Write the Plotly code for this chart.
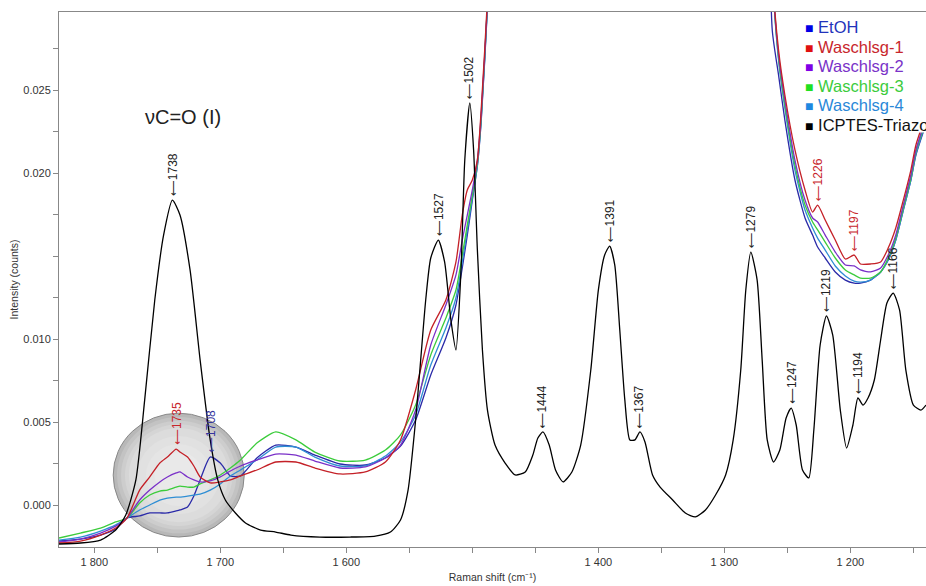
import numpy as np
import plotly.graph_objects as go

# Raman shift axis (cm^-1) shared by the washing-solution spectra
shift_wash = [1828, 1811, 1795, 1783, 1774, 1764, 1756, 1748, 1742, 1735,
              1732, 1726, 1721, 1716, 1708, 1700, 1692, 1684, 1671, 1656,
              1640, 1625, 1605, 1585, 1569, 1557, 1545, 1533, 1521, 1513,
              1508, 1504, 1500, 1496, 1493, 1488, 1480, 1400, 1300, 1268,
              1262, 1257, 1252, 1244, 1236, 1230, 1226, 1220, 1212, 1204,
              1197, 1192, 1184, 1176, 1170, 1164, 1158, 1152, 1148, 1140]

etoh = [-0.00217, -0.00205, -0.00181, -0.00145, -0.00078, -0.00066, -0.00048, -0.00048, -0.00048, -0.00036,
        -0.00030, -0.00012, 0.00054, 0.00151, 0.00289, 0.00253, 0.00175, 0.00175, 0.00283, 0.00361,
        0.00349, 0.00301, 0.00247, 0.00241, 0.00283, 0.00355, 0.00512, 0.00783, 0.01006, 0.01205,
        0.01428, 0.01626, 0.01837, 0.02042, 0.02307, 0.0300, 0.045, 0.08, 0.08, 0.045,
        0.0286, 0.0259, 0.02319, 0.01958, 0.01729, 0.01626, 0.01554, 0.01488, 0.01404, 0.01355,
        0.01337, 0.01337, 0.01355, 0.01404, 0.01476, 0.01596, 0.01777, 0.01958, 0.02108, 0.02295]

wasch1 = [-0.00229, -0.00217, -0.00181, -0.00139, -0.00078, 0.00090, 0.00169, 0.00253, 0.00289, 0.00337,
          0.00319, 0.00289, 0.00235, 0.00169, 0.00133, 0.00139, 0.00151, 0.00175, 0.00211, 0.00259,
          0.00259, 0.00223, 0.00187, 0.00199, 0.00259, 0.00392, 0.00693, 0.01054, 0.01235, 0.01464,
          0.01747, 0.01898, 0.01958, 0.02078, 0.02379, 0.0305, 0.045, 0.08, 0.08, 0.045,
          0.032, 0.0274, 0.0247, 0.02139, 0.01898, 0.01765, 0.01807, 0.01717, 0.01596, 0.01482,
          0.01506, 0.01452, 0.01452, 0.01464, 0.01548, 0.01669, 0.01837, 0.02018, 0.02169, 0.02349]

wasch2 = [-0.00223, -0.00205, -0.00169, -0.00127, -0.00078, 0.00030, 0.00090, 0.00139, 0.00169, 0.00193,
          0.00199, 0.00169, 0.00151, 0.00139, 0.00145, 0.00169, 0.00205, 0.00235, 0.00271, 0.00307,
          0.00301, 0.00265, 0.00223, 0.00229, 0.00283, 0.00361, 0.00572, 0.00964, 0.01205, 0.01386,
          0.01596, 0.01747, 0.01898, 0.02078, 0.02349, 0.0302, 0.045, 0.08, 0.08, 0.045,
          0.032, 0.0271, 0.0244, 0.02078, 0.01837, 0.01729, 0.01705, 0.01626, 0.01524, 0.01446,
          0.01440, 0.01416, 0.01404, 0.01428, 0.01506, 0.01626, 0.01807, 0.01988, 0.02139, 0.02331]

wasch3 = [-0.00199, -0.00169, -0.00139, -0.00102, -0.00078, 0.00012, 0.00060, 0.00084, 0.00090, 0.00108,
          0.00114, 0.00108, 0.00108, 0.00127, 0.00151, 0.00181, 0.00223, 0.00271, 0.00373, 0.00440,
          0.00392, 0.00319, 0.00265, 0.00271, 0.00331, 0.00422, 0.00602, 0.00904, 0.01126, 0.01295,
          0.01506, 0.01687, 0.01867, 0.02060, 0.02331, 0.0302, 0.045, 0.08, 0.08, 0.045,
          0.032, 0.02693, 0.0241, 0.02048, 0.01807, 0.01705, 0.01657, 0.01584, 0.01488, 0.01416,
          0.01386, 0.01367, 0.01367, 0.01404, 0.01488, 0.01608, 0.01789, 0.01970, 0.02127, 0.02319]

wasch4 = [-0.00211, -0.00193, -0.00157, -0.00120, -0.00078, -0.00030, 0.0, 0.00030, 0.00042, 0.00048,
          0.00048, 0.00054, 0.00060, 0.00066, 0.00090, 0.00127, 0.00175, 0.00211, 0.00271, 0.00349,
          0.00349, 0.00289, 0.00235, 0.00235, 0.00295, 0.00380, 0.00542, 0.00843, 0.01066, 0.01247,
          0.01464, 0.01657, 0.01849, 0.02048, 0.02319, 0.0301, 0.045, 0.08, 0.08, 0.045,
          0.032, 0.0268, 0.02392, 0.02018, 0.01777, 0.01669, 0.01608, 0.01536, 0.01440, 0.01380,
          0.01349, 0.01343, 0.01355, 0.01404, 0.01476, 0.01596, 0.01777, 0.01958, 0.02114, 0.02307]

# ICPTES-Triazol reference spectrum
shift_triazol = [1828, 1811, 1795, 1783, 1775, 1767, 1760, 1752, 1745, 1738,
                 1732, 1724, 1716, 1708, 1702, 1696, 1688, 1680, 1668, 1656,
                 1644, 1621, 1597, 1577, 1565, 1557, 1551, 1545, 1541, 1537,
                 1533, 1527, 1522, 1517, 1513, 1509, 1506, 1502, 1499, 1496,
                 1492, 1488, 1482, 1474, 1466, 1458, 1452, 1448, 1444, 1439,
                 1434, 1428, 1421, 1414, 1406, 1400, 1395, 1391, 1387, 1383,
                 1379, 1375, 1371, 1367, 1363, 1357, 1351, 1341, 1331, 1323,
                 1315, 1307, 1299, 1293, 1287, 1283, 1279, 1274, 1270, 1266,
                 1261, 1256, 1251, 1247, 1243, 1238, 1233, 1229, 1224, 1219,
                 1214, 1208, 1203, 1198, 1194, 1190, 1186, 1181, 1176, 1171,
                 1166, 1161, 1156, 1150, 1144, 1140]

triazol = [-0.00235, -0.00229, -0.00211, -0.00151, -0.00060, 0.00151, 0.00633, 0.01235, 0.01626, 0.01837,
           0.01747, 0.01416, 0.00873, 0.00392, 0.00151, 0.00030, -0.00048, -0.00108, -0.00151, -0.00163,
           -0.00181, -0.00193, -0.00193, -0.00187, -0.00163, -0.00090, 0.00090, 0.00512, 0.00873, 0.01235,
           0.01488, 0.01596, 0.01464, 0.01114, 0.00934, 0.01416, 0.02078, 0.02422, 0.02139, 0.01536,
           0.00934, 0.00572, 0.00361, 0.00253, 0.00181, 0.00199, 0.00301, 0.00404, 0.00440, 0.00361,
           0.00211, 0.00139, 0.00199, 0.00361, 0.00813, 0.01295, 0.01506, 0.01560, 0.01446, 0.01054,
           0.00633, 0.00392, 0.00392, 0.00440, 0.00380, 0.00181, 0.00108, 0.00030, -0.00048, -0.00072,
           -0.00030, 0.00060, 0.00181, 0.00392, 0.00813, 0.01295, 0.01524, 0.01355, 0.00873, 0.00392,
           0.00259, 0.00331, 0.00524, 0.00584, 0.00482, 0.00211, 0.00163, 0.00452, 0.00964, 0.01139,
           0.01024, 0.00572, 0.00343, 0.00482, 0.00645, 0.00602, 0.00645, 0.00753, 0.00994, 0.01217,
           0.01277, 0.01175, 0.00813, 0.00602, 0.00572, 0.00602]

series_names = ["EtOH", "Waschlsg-1", "Waschlsg-2", "Waschlsg-3", "Waschlsg-4", "ICPTES-Triazol"]
series_values = {"EtOH": etoh, "Waschlsg-1": wasch1, "Waschlsg-2": wasch2,
                 "Waschlsg-3": wasch3, "Waschlsg-4": wasch4, "ICPTES-Triazol": triazol}
line_colors = {"EtOH": "#2a2aa8", "Waschlsg-1": "#c42027", "Waschlsg-2": "#7a30c8",
               "Waschlsg-3": "#3ccc3c", "Waschlsg-4": "#2f8ed4", "ICPTES-Triazol": "#000000"}
key_colors = {"EtOH": "#0000e6", "Waschlsg-1": "#e01010", "Waschlsg-2": "#8000e6",
              "Waschlsg-3": "#20e020", "Waschlsg-4": "#1e88e0", "ICPTES-Triazol": "#000000"}
text_colors = {"EtOH": "#2233bb", "Waschlsg-1": "#c8262c", "Waschlsg-2": "#7a32c8",
               "Waschlsg-3": "#3ccc3c", "Waschlsg-4": "#2a88d8", "ICPTES-Triazol": "#111111"}

# Peak markers: (series, Raman shift)
peak_labels = [("ICPTES-Triazol", 1738), ("ICPTES-Triazol", 1527), ("ICPTES-Triazol", 1502),
               ("ICPTES-Triazol", 1444), ("ICPTES-Triazol", 1391), ("ICPTES-Triazol", 1367),
               ("ICPTES-Triazol", 1279), ("ICPTES-Triazol", 1247), ("ICPTES-Triazol", 1219),
               ("ICPTES-Triazol", 1194), ("ICPTES-Triazol", 1166),
               ("Waschlsg-1", 1735), ("EtOH", 1708), ("Waschlsg-1", 1226), ("Waschlsg-1", 1197)]
label_colors = {"ICPTES-Triazol": "#222222", "Waschlsg-1": "#c8262c", "EtOH": "#35359e"}

x_ticks = [1800, 1750, 1700, 1650, 1600, 1550, 1500, 1450, 1400, 1350, 1300, 1250, 1200, 1150]
x_tick_text = ["1 800", "", "1 700", "", "1 600", "", "", "", "1 400", "", "1 300", "", "1 200", ""]
y_ticks = [0.0, 0.0025, 0.005, 0.0075, 0.010, 0.0125, 0.015, 0.0175, 0.020, 0.0225, 0.025, 0.0275]
y_tick_text = ["0.000", "", "0.005", "", "0.010", "", "", "", "0.020", "", "0.025", ""]

band_note = "\u03bdC=O (I)"

FONT = "Liberation Sans, Arial, sans-serif"

fig = go.Figure()

# Highlight of the carbonyl region: soft grey disc, darker at the rim
cx, cy = 1733.0, 0.0018
rx, ry = 52.0, 0.00373
rim_shades = ["#b8b8b8", "#c3c3c3", "#cdcdcd", "#d5d5d5", "#dcdcdc", "#e1e1e1", "#e5e5e5", "#e9e9e9"]
for k, col in enumerate(rim_shades):
    f = 1.0 - 0.06 * k if k < 4 else 0.76 - 0.13 * (k - 4)
    fig.add_shape(type="circle", xref="x", yref="y",
                  x0=cx - rx * f, x1=cx + rx * f, y0=cy - ry * f, y1=cy + ry * f,
                  fillcolor=col, line=dict(color="#888888" if k == 0 else col, width=1 if k == 0 else 0),
                  layer="below")

for name in ["EtOH", "Waschlsg-4", "Waschlsg-3", "Waschlsg-2", "Waschlsg-1", "ICPTES-Triazol"]:
    xs = shift_triazol if name == "ICPTES-Triazol" else shift_wash
    fig.add_trace(go.Scatter(x=xs, y=series_values[name], mode="lines", name=name,
                             line=dict(color=line_colors[name], width=1.3, shape="spline", smoothing=0.6),
                             showlegend=False, hoverinfo="skip"))

# Peak position labels, rotated, with an arrow pointing at the band
for name, pos in peak_labels:
    xs = shift_triazol if name == "ICPTES-Triazol" else shift_wash
    yv = float(np.interp(pos, xs[::-1], series_values[name][::-1]))
    fig.add_annotation(x=pos, y=yv, xref="x", yref="y",
                       text="<span style=\"font-family:'DejaVu Sans';font-size:11px\">\u27f5</span>" + str(pos),
                       textangle=-90, showarrow=False, yanchor="bottom", xanchor="center",
                       yshift=2, font=dict(family=FONT, size=12, color=label_colors[name]))

fig.add_annotation(x=1729.5, y=0.02337, xref="x", yref="y", text=band_note, showarrow=False,
                   font=dict(family=FONT, size=20, color="#222222"))

# Legend box with coloured keys and labels
fig.add_shape(type="rect", xref="paper", yref="paper", x0=0.852, x1=1.0, y0=0.775, y1=0.995,
              fillcolor="white", line=dict(width=0), layer="above")
for i, name in enumerate(series_names):
    fig.add_annotation(xref="paper", yref="paper", x=0.858, y=0.972 - i * 0.0365,
                       xanchor="left", yanchor="middle", showarrow=False,
                       text=f"<span style='color:{key_colors[name]};font-size:14px'>\u25a0</span> "
                            f"<span style='color:{text_colors[name]}'>{name}</span>",
                       font=dict(family=FONT, size=16.5))

fig.update_layout(
    width=926, height=586,
    margin=dict(l=59, r=0, t=12, b=39),
    paper_bgcolor="white", plot_bgcolor="white",
    font=dict(family=FONT, size=11, color="#333333"),
    xaxis=dict(range=[1828, 1140], tickvals=x_ticks, ticktext=x_tick_text,
               ticks="outside", ticklen=5, tickcolor="#888888",
               showline=True, linecolor="#888888", linewidth=1, mirror=True,
               showgrid=False, zeroline=False,
               title=dict(text="Raman shift (cm\u207b\u00b9)", font=dict(size=10.5), standoff=6),
               tickfont=dict(size=11)),
    yaxis=dict(range=[-0.00253, 0.0297], tickvals=y_ticks, ticktext=y_tick_text,
               ticks="outside", ticklen=5, tickcolor="#888888",
               showline=True, linecolor="#888888", linewidth=1, mirror=False,
               showgrid=False, zeroline=False,
               title=dict(text="Intensity (counts)", font=dict(size=10.5), standoff=2),
               tickfont=dict(size=11)),
)

fig.write_html("out.html")
